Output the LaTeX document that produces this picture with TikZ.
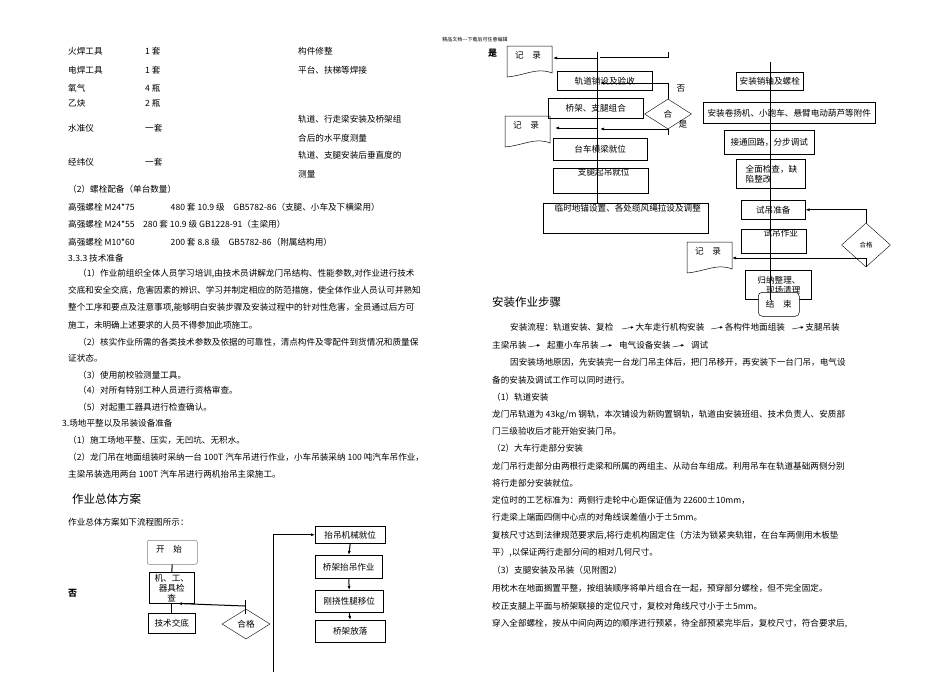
\documentclass[tikz,border=0pt]{standalone}
\usepackage{fontspec}
\setmainfont{Liberation Serif}
\newfontfamily\cjk{Noto Sans CJK SC}
\usetikzlibrary{shapes.geometric,arrows.meta}
\newcommand\flowar{\,\raisebox{1pt}{\tikz[baseline]\draw[-{Latex[length=3pt,width=2.5pt]},line width=0.4pt] (0,0) -- (12pt,2pt);}\,}
\begin{document}
\begin{tikzpicture}[x=1pt,y=-1pt,
  every node/.style={font=\cjk\fontsize{8.6}{10}\selectfont,inner sep=0pt},
  t/.style={anchor=base west},
  bx/.style={draw,line width=0.5pt,anchor=north west,align=center},
  dm/.style={draw,diamond,shape aspect=1.6,inner sep=0pt,minimum width=48,minimum height=30},
  ar/.style={-{Latex[length=4pt,width=3pt]},line width=1pt},
  ln/.style={line width=1pt},
  h/.style={font=\cjk\fontsize{11.5}{13}\selectfont,anchor=base west}]
\useasboundingbox (0,0) rectangle (950,672);
\fill[white] (0,0) rectangle (950,672);
\node[font=\cjk\fontsize{5}{6}\selectfont] (hdr) at (475,40) {精品文档---下载后可任意编辑};
% left text
\node[t] (a1) at (68,54) {火焊工具}; \node[t] (a2) at (145,54) {1 套}; \node[t] (a3) at (298,54) {构件修整};
\node[t] (b1) at (68,73) {电焊工具}; \node[t] (b2) at (145,73) {1 套}; \node[t] (b3) at (298,73) {平台、扶梯等焊接};
\node[t] (c1) at (68,91) {氧气}; \node[t] (c2) at (145,91) {4 瓶};
\node[t] (d1) at (68,106) {乙炔}; \node[t] (d2) at (145,106) {2 瓶};
\node[t] (e1) at (68,131) {水准仪}; \node[t] (e2) at (145,131) {一套};
\node[t] (e3) at (298,122) {轨道、行走梁安装及桥架组}; \node[t] (e4) at (298,141) {合后的水平度测量};
\node[t] (f1) at (68,165) {经纬仪}; \node[t] (f2) at (145,165) {一套};
\node[t] (f3) at (298,158) {轨道、支腿安装后垂直度的}; \node[t] (f4) at (298,177) {测量};
\node[t] (g0) at (68,192) {（2）螺栓配备（单台数量）};
\node[t] (g1) at (68,210) {高强螺栓 M24*75\hspace{4.2em}480 套 10.9 级\quad GB5782-86（支腿、小车及下横梁用）};
\node[t] (g2) at (68,227) {高强螺栓 M24*55\quad 280 套 10.9 级 GB1228-91（主梁用）};
\node[t] (g3) at (68,245) {高强螺栓 M10*60\hspace{4.2em}200 套 8.8 级\quad GB5782-86（附属结构用）};
\node[t] (h0) at (68,261) {3.3.3 技术准备};
\node[t] (h1) at (78,276) {（1）作业前组织全体人员学习培训,由技术员讲解龙门吊结构、性能参数,对作业进行技术};
\node[t] (h2) at (68,293) {交底和安全交底，危害因素的辨识、学习并制定相应的防范措施，使全体作业人员认可并熟知};
\node[t] (h3) at (68,310) {整个工序和要点及注意事项,能够明白安装步骤及安装过程中的针对性危害，全员通过后方可};
\node[t] (h4) at (68,328) {施工，未明确上述要求的人员不得参加此项施工。};
\node[t] (h5) at (78,345) {（2）核实作业所需的各类技术参数及依据的可靠性，清点构件及零配件到货情况和质量保};
\node[t] (h6) at (68,361) {证状态。};
\node[t] (h7) at (78,378) {（3）使用前校验测量工具。};
\node[t] (h8) at (78,393) {（4）对所有特别工种人员进行资格审查。};
\node[t] (h9) at (78,410) {（5）对起重工器具进行检查确认。};
\node[t] (i0) at (62,426) {3.场地平整以及吊装设备准备};
\node[t] (i1) at (68,443) {（1）施工场地平整、压实，无凹坑、无积水。};
\node[t] (i2) at (68,460) {（2）龙门吊在地面组装时采纳一台 100T 汽车吊进行作业，小车吊装采纳 100 吨汽车吊作业，};
\node[t] (i3) at (68,477) {主梁吊装选用两台 100T 汽车吊进行两机抬吊主梁施工。};
\node[h] (j0) at (72,503) {作业总体方案};
\node[t] (j1) at (68,525) {作业总体方案如下流程图所示：};
\node[t,font=\cjk\bfseries\fontsize{9}{10}\selectfont] (no1) at (68,596) {否};
% left flowchart
\node[bx,draw=gray,rounded corners=2pt,minimum width=50,minimum height=24,align=left,anchor=north west] (s) at (147,540) {};
\node[anchor=north west] (stxt) at (156,545) {开\quad 始};
\node[bx,minimum width=45,minimum height=31] (k) at (149,572) {机、工、\\器具检\\查};
\node[bx,minimum width=47,minimum height=20] (jd) at (148,613) {技术交底};
\node[dm] (q1) at (246,624) {合格};
\coordinate (q1t) at (245,606);
\draw[ln] (s.south) -- (k.north);
\draw[ln] (245,600) -- (245,614);
\draw[ar] (q1t) -- (k.south -| 178,606);
\draw[ln] (k.south) -- (jd.north);
\node[bx,minimum width=70,minimum height=17] (r1) at (315,526) {抬吊机械就位};
\node[bx,minimum width=67,minimum height=23] (r2) at (315,555) {桥架抬吊作业};
\node[bx,minimum width=68,minimum height=22] (r3) at (315,590) {刚挠性腿移位};
\node[bx,minimum width=70,minimum height=22] (r4) at (315,620) {桥架放落};
\coordinate (lb) at (273,672);
\draw[ar] (lb) |- (r1.west);
\draw[ar] (r1.south) -- (r2.north);
\draw[ar] (r2.south) -- (r3.north);
\draw[ar] (r3.south) -- (r4.north);
% right flowchart 1
\node[t,font=\cjk\bfseries\fontsize{9}{10}\selectfont] (yes1) at (488,56) {是};
\newcommand\docshape[3]{\draw[line width=0.5pt] (#1,#2) -- ++(45,0) -- ++(0,27) .. controls ++(-15,-6) and ++(20,-2) .. ++(-45,4) -- cycle; \node[anchor=north west] (#3) at (#1+8,#2+5) {记\quad 录};}
\docshape{507}{46}{rec1}
\docshape{505}{116}{rec2}
\docshape{687}{242}{rec3}
\node[bx,minimum width=95,minimum height=19] (p1) at (557,71) {轨道铺设及验收};
\node[bx,minimum width=95,minimum height=20] (p2) at (548,98) {桥架、支腿组合};
\node[bx,minimum width=94,minimum height=22] (p3) at (553,138) {台车横梁就位};
\node[bx,minimum width=95,minimum height=24,align=left] (p4) at (553,168) {\hspace{6pt}支腿起吊就位\\[8pt]};
\node[bx,minimum width=165,minimum height=30,align=left] (p5) at (543,203) {\hspace{4pt}临时地锚设置、各处缆风绳拉设及调整\\[10pt]};
\node[dm,minimum width=47] (q2) at (668,114) {合\qquad};
\node (no2) at (681,88) {否};
\node (yes2) at (683,124) {是};
\draw[ln] (597,52) -- (p5.north -| 597,0);
\draw[ln] (668,52) -- (668,58);
\draw[ln] (668,57) -- (600,57);
\draw[ar] (597,58) -- (553,58);
\draw[ar] (q2.north) |- (600,83);
\draw[ln] (q2.south) -- (668,135);
\draw[ar] (668,129) -- (600,129);
\draw[ar] (597,128) -- (555,128);
% right flowchart 2
\node[bx,minimum width=67,minimum height=18] (m1) at (736,72) {安装销轴及螺栓};
\node[bx,minimum width=172,minimum height=21] (m2) at (703,102) {安装卷扬机、小跑车、悬臂电动葫芦等附件};
\node[bx,minimum width=90,minimum height=24] (m3) at (724,130) {接通回路，分步调试};
\node[bx,minimum width=69,minimum height=29,align=left] (m4) at (736,159) {\,全面检查，缺\\\,陷整改};
\node[bx,minimum width=64,minimum height=19] (m5) at (741,200) {试吊准备};
\node[bx,minimum width=65,minimum height=24,align=left] (m6) at (741,229) {\hspace{14pt}试吊作业\\[6pt]};
\node[dm,minimum width=49,minimum height=44,font=\cjk\fontsize{6.5}{8}\selectfont] (q3) at (866,245) {合格};
\node[bx,minimum width=66,minimum height=29,align=left] (m7) at (745,270) {\,归纳整理、\\\hspace{10pt}现场清理};
\node[bx,fill=white,rounded corners=4pt,minimum width=41,minimum height=24] (m8) at (758,292) {结\quad 束};
\draw[ln] (770,62) -- (770,300);
\draw[ar] (q3.north) |- (m5.east);
\draw[line width=0.4pt] (q3.south) |- (782,258);
\draw[ar] (782,258) -- (732,258);
\node[h] (hd2) at (492,306) {安装作业步骤};
% right text
\node[t] (n1) at (510,330) {安装流程：轨道安装、复检\hspace{0.8em}\flowar 大车走行机构安装\hspace{0.6em}\flowar 各构件地面组装\hspace{0.6em}\flowar 支腿吊装};
\node[t] (n2) at (492,348) {主梁吊装\flowar\hspace{0.6em}起重小车吊装\flowar\hspace{0.6em}电气设备安装\flowar\hspace{0.6em}调试};
\node[t] (n3) at (510,365) {因安装场地原因，先安装完一台龙门吊主体后，把门吊移开，再安装下一台门吊，电气设};
\node[t] (n4) at (492,383) {备的安装及调试工作可以同时进行。};
\node[t] (n5) at (492,400) {（1）轨道安装};
\node[t] (n6) at (492,417) {龙门吊轨道为 43kg/m 钢轨，本次铺设为新购置钢轨，轨道由安装班组、技术负责人、安质部};
\node[t] (n7) at (492,434) {门三级验收后才能开始安装门吊。};
\node[t] (n8) at (492,451) {（2）大车行走部分安装};
\node[t] (n9) at (492,469) {龙门吊行走部分由两根行走梁和所属的两组主、从动台车组成。利用吊车在轨道基础两侧分别};
\node[t] (n10) at (492,486) {将行走部分安装就位。};
\node[t] (n11) at (492,503) {定位时的工艺标准为：两侧行走轮中心距保证值为 22600±10mm，};
\node[t] (n12) at (492,520) {行走梁上端面四侧中心点的对角线误差值小于±5mm。};
\node[t] (n13) at (492,538) {复核尺寸达到法律规范要求后,将行走机构固定住（方法为锁紧夹轨钳，在台车两侧用木板垫};
\node[t] (n14) at (492,555) {平）,以保证两行走部分间的相对几何尺寸。};
\node[t] (n15) at (492,573) {（3）支腿安装及吊装（见附图2）};
\node[t] (n16) at (492,591) {用枕木在地面搁置平整，按组装顺序将单片组合在一起，预穿部分螺栓，但不完全固定。};
\node[t] (n17) at (492,609) {校正支腿上平面与桥架联接的定位尺寸，复校对角线尺寸小于±5mm。};
\node[t] (n18) at (492,626) {穿入全部螺栓，按从中间向两边的顺序进行预紧，待全部预紧完毕后，复校尺寸，符合要求后,};
\end{tikzpicture}
\end{document}
